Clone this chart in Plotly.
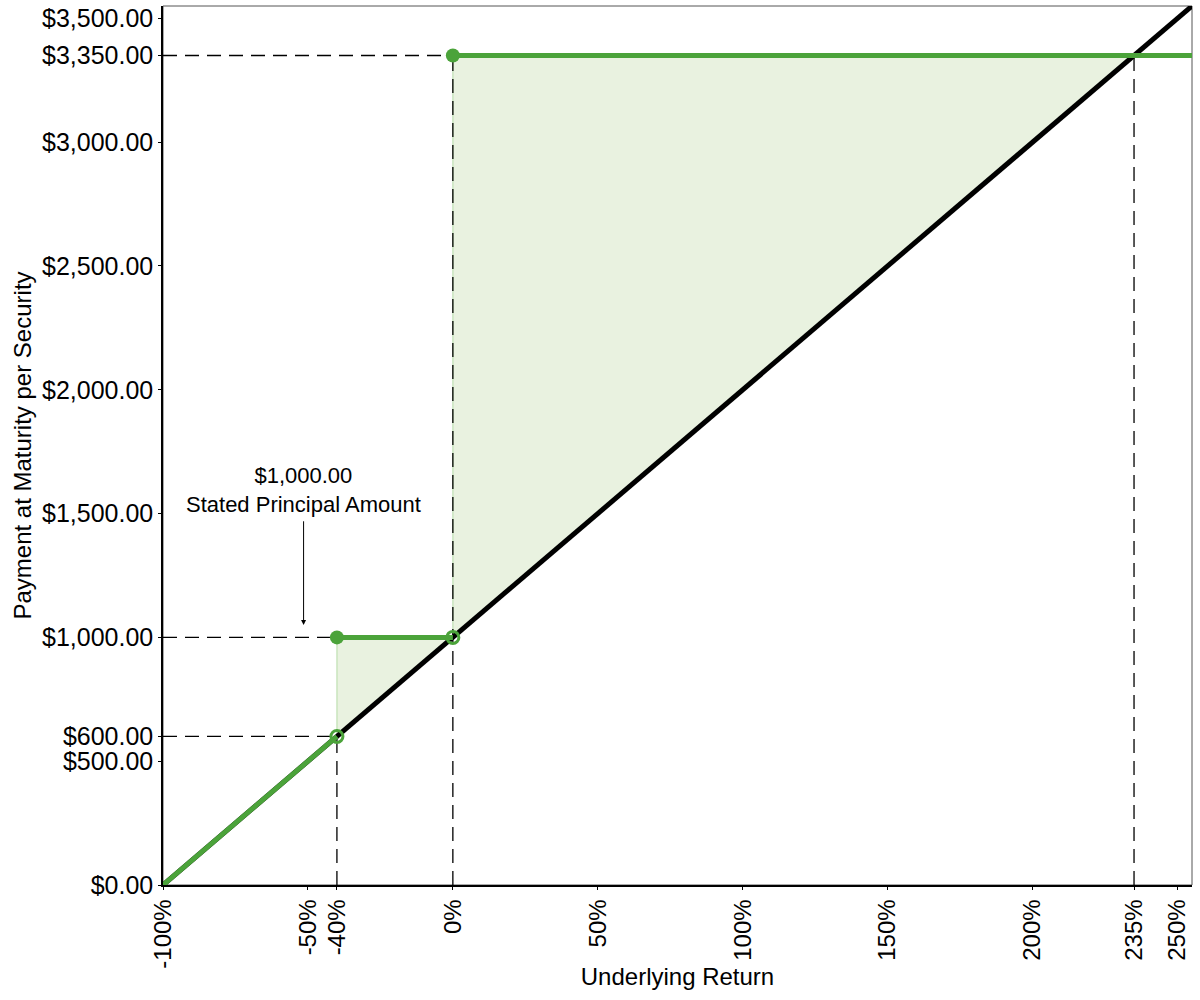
import plotly.graph_objects as go

# ── Données du profil de remboursement ───────────────────
underlying_x = [-100, 255]
underlying_y = [0, 3550]

low_x = [-100, -40]
low_y = [0, 600]
mid_x = [-40, 0]
mid_y = [1000, 1000]
high_x = [0, 255]
high_y = [3350, 3350]

# zone de surperformance (entre payoff et sous-jacent)
fill_x = [-40, -40, 0, 0, 235, -40]
fill_y = [600, 1000, 1000, 3350, 3350, 600]

x_ticks = [-100, -50, -40, 0, 50, 100, 150, 200, 235, 250]
y_ticks = [0, 500, 600, 1000, 1500, 2000, 2500, 3000, 3350, 3500]

GREEN = "#4ba33a"
FONT = "Arial, Liberation Sans, sans-serif"

fig = go.Figure()

fig.add_trace(go.Scatter(
    x=fill_x, y=fill_y, fill="toself", mode="lines",
    fillcolor="rgba(175,210,145,0.28)",
    line=dict(color="rgba(140,200,120,0.6)", width=1),
    hoverinfo="skip"
))

# ── lignes pointillées de référence ──────────────────────
def dash(xs, ys):
    fig.add_trace(go.Scatter(x=xs, y=ys, mode="lines",
                             line=dict(color="black", width=1.3, dash="14px,8px"),
                             hoverinfo="skip"))

dash([-100, high_x[0]], [high_y[0], high_y[0]])
dash([-100, mid_x[0]], [mid_y[0], mid_y[0]])
dash([-100, low_x[1]], [low_y[1], low_y[1]])
dash([high_x[0], high_x[0]], [0, high_y[0]])
dash([low_x[1], low_x[1]], [0, low_y[1]])
dash([fill_x[4], fill_x[4]], [0, fill_y[4]])

# sous-jacent
fig.add_trace(go.Scatter(x=underlying_x, y=underlying_y, mode="lines",
                         line=dict(color="black", width=5)))

# payoff
fig.add_trace(go.Scatter(x=low_x, y=low_y, mode="lines",
                         line=dict(color=GREEN, width=5)))
fig.add_trace(go.Scatter(x=mid_x, y=mid_y, mode="lines",
                         line=dict(color=GREEN, width=5)))
fig.add_trace(go.Scatter(x=high_x, y=high_y, mode="lines",
                         line=dict(color=GREEN, width=5)))

# points pleins / vides
fig.add_trace(go.Scatter(x=[mid_x[0], high_x[0]], y=[mid_y[0], high_y[0]], mode="markers",
                         marker=dict(color=GREEN, size=14)))
fig.add_trace(go.Scatter(x=[low_x[1], mid_x[1]], y=[low_y[1], mid_y[1]], mode="markers",
                         marker=dict(symbol="circle-open", color=GREEN, size=12,
                                     line=dict(width=3, color=GREEN))))

fig.add_annotation(
    x=-51.5, y=1050, ax=-51.5, ay=1475, xref="x", yref="y", axref="x", ayref="y",
    text="", showarrow=True, arrowhead=2, arrowsize=1, arrowwidth=1, arrowcolor="black"
)
fig.add_annotation(
    x=-51.5, y=1480, xref="x", yref="y", yanchor="bottom",
    text="$1,000.00<br>Stated Principal Amount", showarrow=False,
    font=dict(family=FONT, size=22, color="black")
)

fig.update_layout(
    width=1200, height=1000,
    template="plotly_white",
    showlegend=False,
    plot_bgcolor="white", paper_bgcolor="white",
    margin=dict(l=163, r=8, t=6, b=115),
    font=dict(family=FONT, size=25, color="black"),
)
fig.update_xaxes(
    range=[-100, 255], tickvals=x_ticks, ticktext=[f"{v}%" for v in x_ticks],
    tickangle=-90, showgrid=False, zeroline=False, automargin=False,
    showline=True, linecolor="black", linewidth=1.5, mirror=False,
    ticks="outside", ticklen=3, tickcolor="black",
    title=dict(text="Underlying Return", font=dict(size=24), standoff=0),
    tickfont=dict(size=24)
)
fig.update_yaxes(
    range=[0, 3550], tickvals=y_ticks, ticktext=[f"${v:,.2f}" for v in y_ticks],
    showgrid=False, zeroline=False, automargin=False, ticklabeloverflow="allow",
    showline=True, linecolor="black", linewidth=1.5, mirror=False,
    ticks="outside", ticklen=3, tickcolor="black",
    title=dict(text="Payment at Maturity per Security", font=dict(size=24), standoff=4),
    tickfont=dict(size=25)
)
# cadre gris haut/droite
fig.add_shape(type="rect", xref="paper", yref="paper", x0=0, y0=0, x1=1, y1=1,
              line=dict(color="#555555", width=1), layer="below")

# pas de marge de page autour du graphique
fig.write_html("out.html", config={"displayModeBar": False},
               post_script="document.body.style.margin='0px';")
